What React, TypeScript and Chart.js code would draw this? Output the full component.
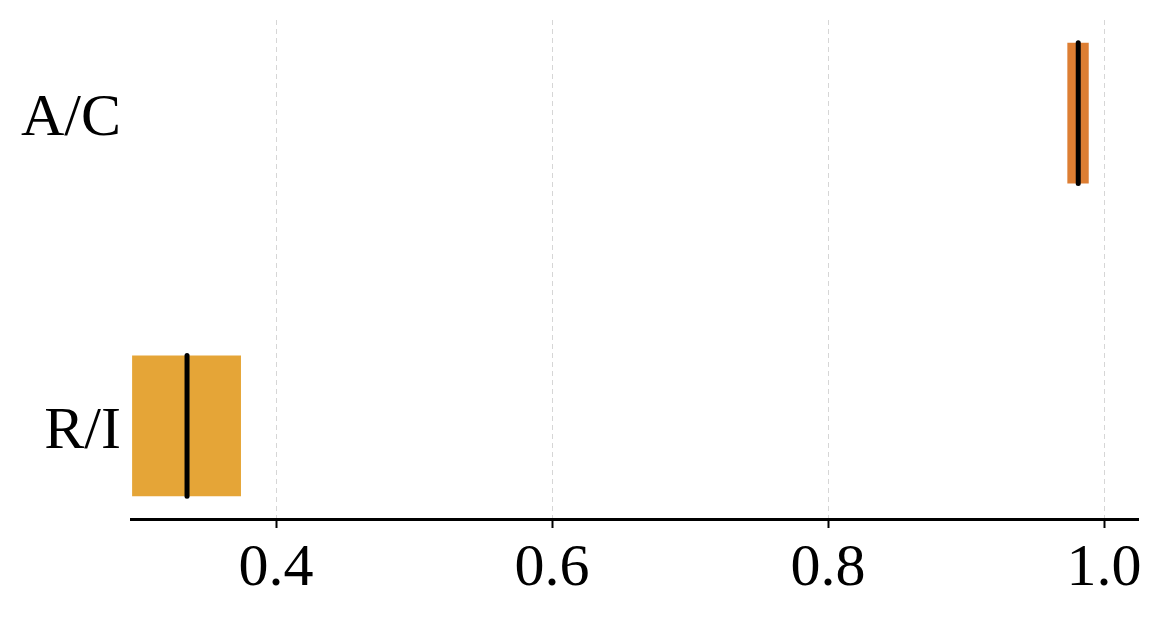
import React, { useEffect, useRef } from "react";
import { Chart, registerables } from "chart.js";

Chart.register(...registerables);

const categories = ["A/C", "R/I"];
const lows = [0.9734, 0.2957];
const highs = [0.9889, 0.3746];
const medians = [0.9813, 0.3355];
const barColors = ["rgba(213,94,0,0.8)", "rgba(222,143,5,0.8)"];
const xTickValues = [0.4, 0.6, 0.8, 1.0];
const xMin = 0.2949;
const xMax = 1.0246;
const yMin = -0.2975;
const yMax = 1.2975;

const medianPlugin = {
  id: "medianLines",
  afterDatasetsDraw(chart: any) {
    const meta = chart.getDatasetMeta(0);
    const xScale = chart.scales.x;
    const ctx = chart.ctx;
    ctx.save();
    ctx.strokeStyle = "#000";
    ctx.lineWidth = 5;
    ctx.lineCap = "round";
    meta.data.forEach((bar: any, i: number) => {
      const px = xScale.getPixelForValue(medians[i]);
      const half = bar.height / 2;
      ctx.beginPath();
      ctx.moveTo(px, bar.y - half);
      ctx.lineTo(px, bar.y + half);
      ctx.stroke();
    });
    ctx.restore();
  },
};

export default function App() {
  const ref = useRef<HTMLCanvasElement | null>(null);

  useEffect(() => {
    document.body.style.margin = "0";
    if (!ref.current) return;
    const font = { family: "'Liberation Serif', 'Times New Roman', serif", size: 60 };
    const chart = new Chart(ref.current, {
      type: "bar",
      data: {
        datasets: [
          {
            data: categories.map((c, i) => ({ y: i, x: [lows[i], highs[i]] })) as any,
            backgroundColor: barColors,
            borderWidth: 0,
            barPercentage: 0.45,
            categoryPercentage: 1,
          },
        ],
      },
      plugins: [medianPlugin],
      options: {
        indexAxis: "y",
        animation: false,
        responsive: false,
        maintainAspectRatio: false,
        layout: { padding: { top: 20, right: 27, left: 0, bottom: 0 } },
        plugins: { legend: { display: false }, tooltip: { enabled: false } },
        scales: {
          x: {
            type: "linear",
            position: "bottom",
            min: xMin,
            max: xMax,
            afterBuildTicks: (scale: any) => {
              scale.ticks = xTickValues.map((v) => ({ value: v }));
            },
            afterFit: (scale: any) => {
              scale.height = 99;
              scale.paddingLeft = 0;
              scale.paddingRight = 0;
            },
            ticks: {
              color: "#000",
              font,
              padding: 5,
              maxRotation: 0,
              callback: (v: any) => Number(v).toFixed(1),
            },
            grid: {
              color: "#d6d6d6",
              lineWidth: 1,
              drawTicks: true,
              tickLength: 9,
              tickColor: "#000",
              tickWidth: 2,
              tickBorderDash: [],
            } as any,
            border: { display: true, color: "#000", width: 3, dash: [5, 4] } as any,
          },
          y: {
            type: "linear",
            reverse: true,
            offset: false,
            min: yMin,
            max: yMax,
            afterBuildTicks: (scale: any) => {
              scale.ticks = categories.map((_, i) => ({ value: i }));
            },
            afterFit: (scale: any) => {
              scale.width = 131;
              scale.paddingTop = 0;
              scale.paddingBottom = 0;
            },
            ticks: {
              color: "#000",
              font,
              padding: 10,
              labelOffset: 6,
              callback: (v: any) => categories[Number(v)] ?? "",
            },
            grid: { display: false, drawTicks: false },
            border: { display: false },
          },
        },
      } as any,
    });
    return () => chart.destroy();
  }, []);

  return (
    <div style={{ position: "fixed", left: 0, top: 0, width: 1165, height: 618, background: "#fff" }}>
      <canvas ref={ref} width={1165} height={618} style={{ width: 1165, height: 618 }} />
    </div>
  );
}
